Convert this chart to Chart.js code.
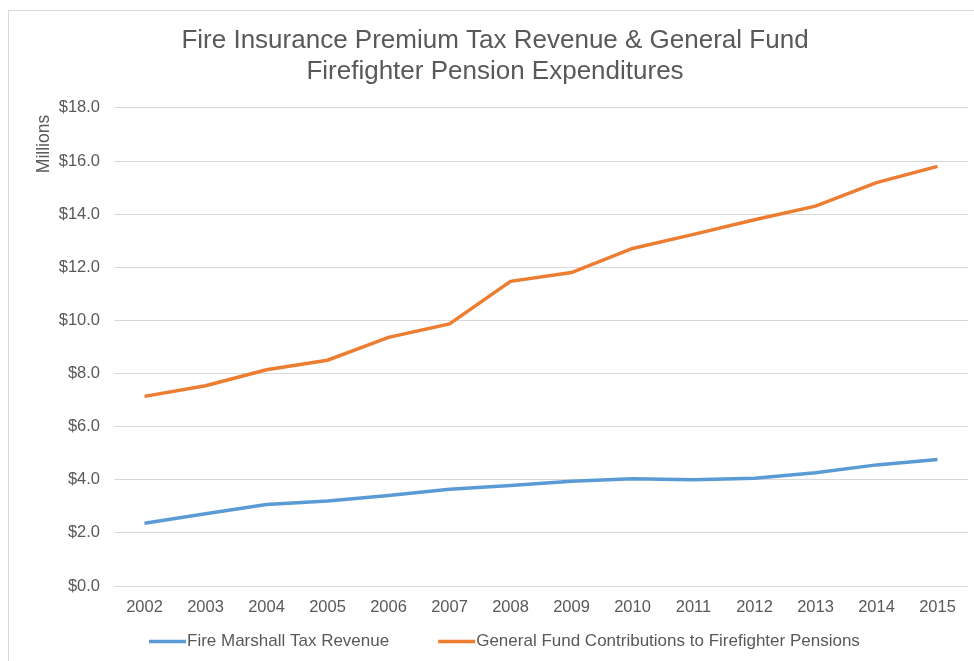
<!DOCTYPE html>
<html>
<head>
<meta charset="utf-8">
<script src="https://cdn.jsdelivr.net/npm/chart.js@4/dist/chart.umd.min.js"></script>
<style>
  html, body { margin: 0; padding: 0; background: #ffffff; overflow: hidden; }
  #frame { position: absolute; left: 8px; top: 10px; width: 1000px; height: 700px; border: 1px solid #d9d9d9; box-sizing: border-box; }
  #wrap { position: absolute; left: 0; top: 0; width: 974px; height: 661px; }
</style>
</head>
<body>
<div id="frame"></div>
<div id="wrap"><canvas id="c" width="974" height="661"></canvas></div>
<script>
const years = ['2002','2003','2004','2005','2006','2007','2008','2009','2010','2011','2012','2013','2014','2015'];
const fireMarshallTaxRevenue = [2.36, 2.72, 3.07, 3.20, 3.41, 3.64, 3.78, 3.94, 4.04, 4.00, 4.06, 4.26, 4.56, 4.76];
const generalFundContributions = [7.14, 7.54, 8.14, 8.50, 9.36, 9.87, 11.47, 11.80, 12.71, 13.24, 13.79, 14.30, 15.19, 15.80];
const seriesNames = ['Fire Marshall Tax Revenue', 'General Fund Contributions to Firefighter Pensions'];
const titleLines = ['Fire Insurance Premium Tax Revenue & General Fund', 'Firefighter Pension Expenditures'];
const yAxisTitle = 'Millions';

const TEXT = '#595959';
const FONT = "'Liberation Sans', Arial, sans-serif";

const extras = {
  id: 'extras',
  afterDraw(chart) {
    const ctx = chart.ctx;
    ctx.save();
    // y axis title
    ctx.fillStyle = TEXT;
    ctx.font = '17.5px ' + FONT;
    ctx.translate(44, 144);
    ctx.rotate(-Math.PI / 2);
    ctx.textAlign = 'center';
    ctx.textBaseline = 'middle';
    ctx.fillText(yAxisTitle, 0, 0);
    ctx.restore();

    // legend
    ctx.save();
    ctx.font = '17px ' + FONT;
    ctx.textBaseline = 'middle';
    ctx.textAlign = 'left';
    let x = 149;
    const y = 641.5;
    chart.data.datasets.forEach((ds) => {
      ctx.strokeStyle = ds.borderColor;
      ctx.lineWidth = 3.5;
      ctx.beginPath();
      ctx.moveTo(x, y);
      ctx.lineTo(x + 37, y);
      ctx.stroke();
      ctx.fillStyle = TEXT;
      ctx.fillText(ds.label, x + 38, y);
      x += 38 + ctx.measureText(ds.label).width + 49;
    });
    ctx.restore();
  }
};

new Chart(document.getElementById('c'), {
  type: 'line',
  data: {
    labels: years,
    datasets: [
      { label: seriesNames[0], data: fireMarshallTaxRevenue, borderColor: '#5B9BD5', backgroundColor: '#5B9BD5', borderWidth: 3.5, pointRadius: 0, tension: 0, fill: false },
      { label: seriesNames[1], data: generalFundContributions, borderColor: '#ED7D31', backgroundColor: '#ED7D31', borderWidth: 3.5, pointRadius: 0, tension: 0, fill: false }
    ]
  },
  options: {
    responsive: false,
    animation: false,
    devicePixelRatio: 1,
    layout: { padding: { left: 22, right: 6, top: 0, bottom: 45 } },
    plugins: {
      legend: { display: false },
      tooltip: { enabled: false },
      title: {
        display: true,
        text: titleLines,
        color: TEXT,
        font: { family: FONT, size: 26, weight: 'normal', lineHeight: 1.21 },
        padding: { top: 25, bottom: 20 }
      }
    },
    scales: {
      x: {
        offset: true,
        grid: { display: false, drawTicks: false },
        border: { display: false },
        ticks: { color: TEXT, font: { family: FONT, size: 16.5 }, padding: 12, maxRotation: 0, autoSkip: false },
        afterFit(s) { s.height = 30; }
      },
      y: {
        min: 0, max: 18,
        grid: { color: '#d9d9d9', lineWidth: 1, drawTicks: false },
        border: { display: false },
        ticks: { stepSize: 2, color: TEXT, font: { family: FONT, size: 16.5 }, padding: 14,
          callback: v => '$' + Number(v).toFixed(1) },
        afterFit(s) { s.width = 92; }
      }
    }
  },
  plugins: [extras]
});
</script>
</body>
</html>
